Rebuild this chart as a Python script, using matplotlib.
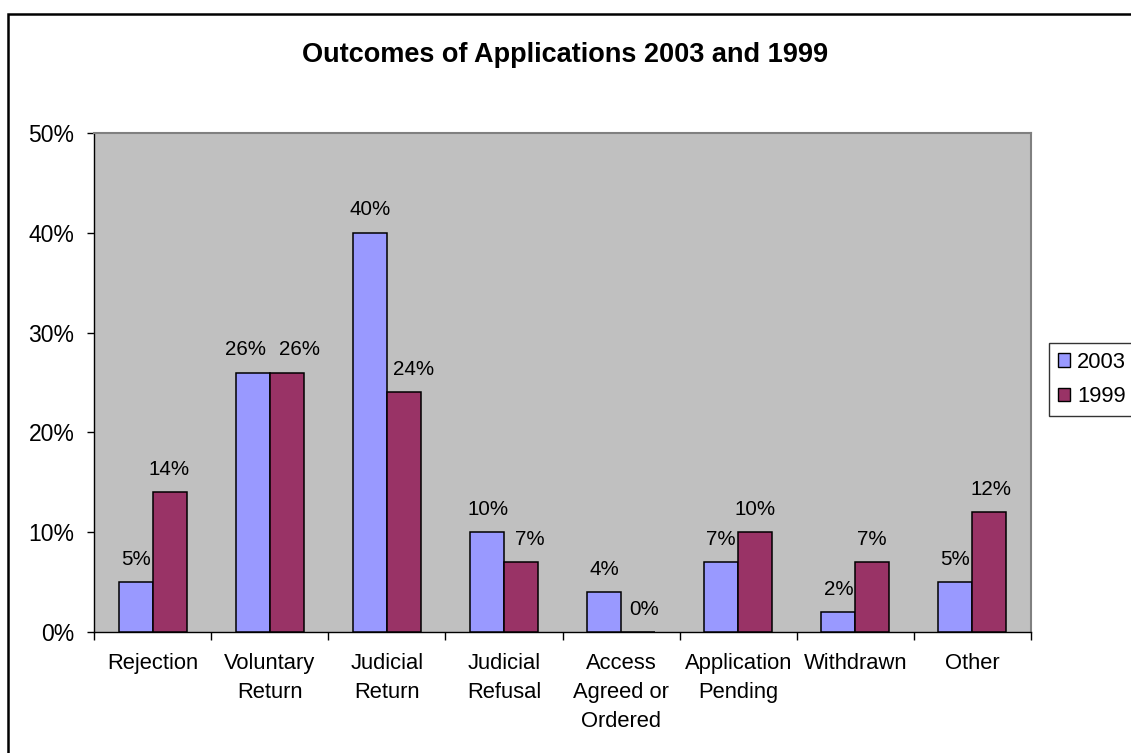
import matplotlib
matplotlib.use("Agg")
import matplotlib.pyplot as plt
from matplotlib.patches import Rectangle, Patch
from matplotlib.ticker import PercentFormatter, FixedLocator
import numpy as np

categories = ["Rejection", "Voluntary\nReturn", "Judicial\nReturn", "Judicial\nRefusal",
              "Access\nAgreed or\nOrdered", "Application\nPending", "Withdrawn", "Other"]
series_names = ["2003", "1999"]
values_2003 = [5, 26, 40, 10, 4, 7, 2, 5]
values_1999 = [14, 26, 24, 7, 0, 10, 7, 12]
title = "Outcomes of Applications 2003 and 1999"

# horizontal nudges (pixels) of data labels, to keep them clear of neighbours
label_dx_2003 = [0, -7, 0, 1, 0, 0, 0, 0]
label_dx_1999 = [0, 13, 10, 9, 6, 0, 0, 2]

colors = ["#9999FF", "#993366"]

plt.rcParams['font.family'] = ['Liberation Sans', 'DejaVu Sans']

W, H = 1131, 753
fig = plt.figure(figsize=(W / 100, H / 100), dpi=100)

# outer chart border
fig.patches.append(Rectangle((8 / W, -0.2), 1.2, 1.2 - 14 / H, transform=fig.transFigure,
                             fill=False, edgecolor="black", linewidth=1.8, zorder=0))

left, right, top, bottom = 94, 1031, 133, 632
ax = fig.add_axes([left / W, 1 - bottom / H, (right - left) / W, (bottom - top) / H])
ax.set_facecolor("#C0C0C0")

x = np.arange(len(categories))
bw = 0.29
for k, (vals, name, dxs) in enumerate(zip([values_2003, values_1999], series_names,
                                          [label_dx_2003, label_dx_1999])):
    pos = x + (k - 0.5) * bw
    ax.bar(pos, vals, width=bw, color=colors[k], edgecolor="black", linewidth=1.1,
           label=name, zorder=3)
    for xp, v, dx in zip(pos, vals, dxs):
        ax.annotate(f"{v}%", (xp, v), xytext=(dx * 0.72, 16.5), textcoords="offset points",
                    ha="center", va="center", fontsize=14.8, zorder=4)

ax.set_xlim(-0.5, len(categories) - 0.5)
ax.set_ylim(0, 50)
ax.set_yticks(np.arange(0, 51, 10))
ax.yaxis.set_major_formatter(PercentFormatter(decimals=0))
ax.set_xticks(x)
ax.set_xticklabels(categories, fontsize=15.8, linespacing=1.5)
ax.xaxis.set_minor_locator(FixedLocator(np.arange(-0.5, len(categories), 1.0)))
ax.tick_params(axis="x", which="major", length=0, pad=15)
ax.tick_params(axis="x", which="minor", length=6, width=1, direction="out", color="black")
ax.tick_params(axis="y", length=5, width=1, direction="out", pad=9, labelsize=16.5, color="black")

for s in ["top", "right"]:
    ax.spines[s].set_color("#808080")
    ax.spines[s].set_linewidth(1.5)
for s in ["left", "bottom"]:
    ax.spines[s].set_color("black")
    ax.spines[s].set_linewidth(1.0)

fig.text(0.5, 1 - 55 / H, title, ha="center", va="center", fontsize=19.5, fontweight="bold")

handles = [Patch(facecolor=c, edgecolor="black", linewidth=1.0) for c in colors]
leg = fig.legend(handles, series_names, loc="upper left",
                 bbox_to_anchor=(1049 / W, 1 - 343 / H), borderaxespad=0,
                 fontsize=15.8, frameon=True, fancybox=False, handlelength=0.56,
                 handleheight=0.56, handletextpad=0.33, labelspacing=0.6, borderpad=0.4)
leg.get_frame().set_edgecolor("black")
leg.get_frame().set_linewidth(1.0)

fig.savefig("out.png", dpi=100)
